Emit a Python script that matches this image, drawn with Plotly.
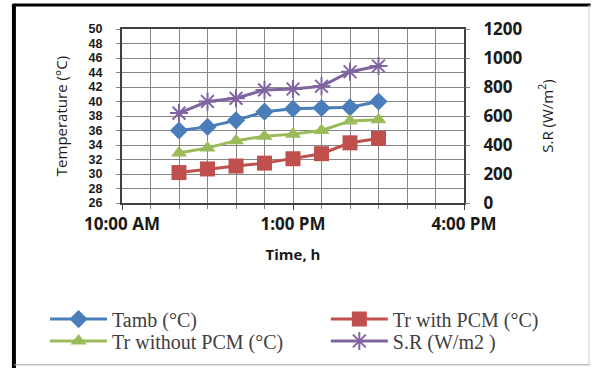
import plotly.graph_objects as go

times = ["11:00", "11:30", "12:00", "12:30", "13:00", "13:30", "14:00", "14:30"]
tamb = [36.0, 36.5, 37.4, 38.6, 39.0, 39.1, 39.2, 40.0]
tr_pcm = [30.2, 30.7, 31.1, 31.5, 32.1, 32.8, 34.3, 34.9]
tr_nopcm = [32.9, 33.6, 34.6, 35.2, 35.5, 36.0, 37.3, 37.5]
sr = [620, 700, 722, 780, 786, 805, 905, 945]

day = "2024-01-01 "
x = [day + t for t in times]

BLUE = "#4a7ebb"
RED = "#c0504d"
GREEN = "#9bbb59"
PURPLE = "#8064a2"
GRID = "#858585"
AX = "#404040"

fig = go.Figure()
fig.add_trace(go.Scatter(x=x, y=tamb, name="Tamb (°C)", mode="lines+markers",
                         line=dict(color=BLUE, width=3),
                         marker=dict(symbol="diamond", size=14, color=BLUE),
                         legend="legend"))
fig.add_trace(go.Scatter(x=x, y=tr_pcm, name="Tr with PCM (°C)", mode="lines+markers",
                         line=dict(color=RED, width=3),
                         marker=dict(symbol="square", size=15, color=RED),
                         legend="legend2"))
fig.add_trace(go.Scatter(x=x, y=tr_nopcm, name="Tr without PCM (°C)", mode="lines+markers",
                         line=dict(color=GREEN, width=3),
                         marker=dict(symbol="triangle-up", size=14, color=GREEN),
                         legend="legend3"))
fig.add_trace(go.Scatter(x=x, y=sr, name="S.R (W/m2 )", mode="lines+markers",
                         line=dict(color=PURPLE, width=3),
                         marker=dict(symbol="asterisk-open", size=15,
                                     line=dict(color=PURPLE, width=2)),
                         yaxis="y2", legend="legend4"))

FONT = "Open Sans"
TXT = "#1a1a1a"
legfont = dict(family="Liberation Serif", size=20, color="#404040")


def leg(xp, yp):
    return dict(x=xp, y=yp, xanchor="left", yanchor="middle",
                orientation="v", font=legfont, itemwidth=57,
                bgcolor="rgba(0,0,0,0)", borderwidth=0)


fig.update_layout(
    width=592, height=368,
    margin=dict(l=122, r=128, t=29, b=165, autoexpand=False),
    paper_bgcolor="white", plot_bgcolor="white",
    xaxis=dict(
        type="date", automargin=False,
        range=[day + "10:00", day + "16:00"],
        tick0=day + "10:00", dtick=3 * 3600 * 1000,
        tickformat="%-I:%M %p",
        tickfont=dict(family=FONT, size=17, color=TXT, weight="bold"),
        showgrid=True, gridcolor=GRID, gridwidth=1,
        ticks="outside", ticklen=5, tickcolor=AX,
        minor=dict(dtick=1800 * 1000, showgrid=True, gridcolor=GRID,
                   ticks="outside", ticklen=4, tickcolor=GRID),
        showline=True, linecolor=AX, linewidth=2, mirror=True,
        title=dict(text="Time, h", font=dict(family=FONT, size=15,
                                             color=TXT, weight="bold"),
                   standoff=15),
        zeroline=False,
    ),
    yaxis=dict(
        range=[26, 50], dtick=2, tick0=26, automargin=False,
        tickfont=dict(family="Liberation Sans", size=12.5, color=TXT,
                      weight="bold"),
        showgrid=True, gridcolor=GRID, gridwidth=1,
        ticks="outside", ticklen=4, tickcolor=GRID,
        ticklabelstandoff=11,
        showline=True, linecolor=AX, linewidth=2, mirror=True,
        title=dict(text="Temperature (°C)",
                   font=dict(family=FONT, size=15, color=TXT),
                   standoff=17),
        zeroline=False,
    ),
    yaxis2=dict(
        overlaying="y", side="right", automargin=False,
        range=[0, 1200], dtick=200,
        tickfont=dict(family=FONT, size=17, color=TXT, weight="bold"),
        showgrid=False, zeroline=False,
        ticks="outside", ticklen=5, tickcolor=GRID,
        ticklabelstandoff=10,
        title=dict(text="S.R (W/m<sup>2</sup>)",
                   font=dict(family=FONT, size=15, color=TXT),
                   standoff=20),
    ),
    legend=leg(-0.225, -0.667),
    legend2=leg(0.596, -0.667),
    legend3=leg(-0.225, -0.793),
    legend4=leg(0.596, -0.793),
    showlegend=True,
)

# outer chart frame
fig.add_shape(type="line", xref="paper", yref="paper", x0=-0.316, x1=1.37,
              y0=1.138, y1=1.138, line=dict(color="black", width=3))
fig.add_shape(type="line", xref="paper", yref="paper", x0=-0.316, x1=-0.316,
              y0=1.145, y1=-0.95, line=dict(color="black", width=4))
fig.add_shape(type="line", xref="paper", yref="paper", x0=-0.316, x1=1.37,
              y0=-0.93, y1=-0.93, line=dict(color="#a0a0a0", width=1))
fig.add_shape(type="line", xref="paper", yref="paper", x0=1.3655, x1=1.3655,
              y0=1.138, y1=-0.93, line=dict(color="#d0d0d0", width=1))

fig.write_html("out.html",
               config={"displayModeBar": False},
               post_script="document.body.style.margin='0';"
                           "document.body.style.padding='0';")
